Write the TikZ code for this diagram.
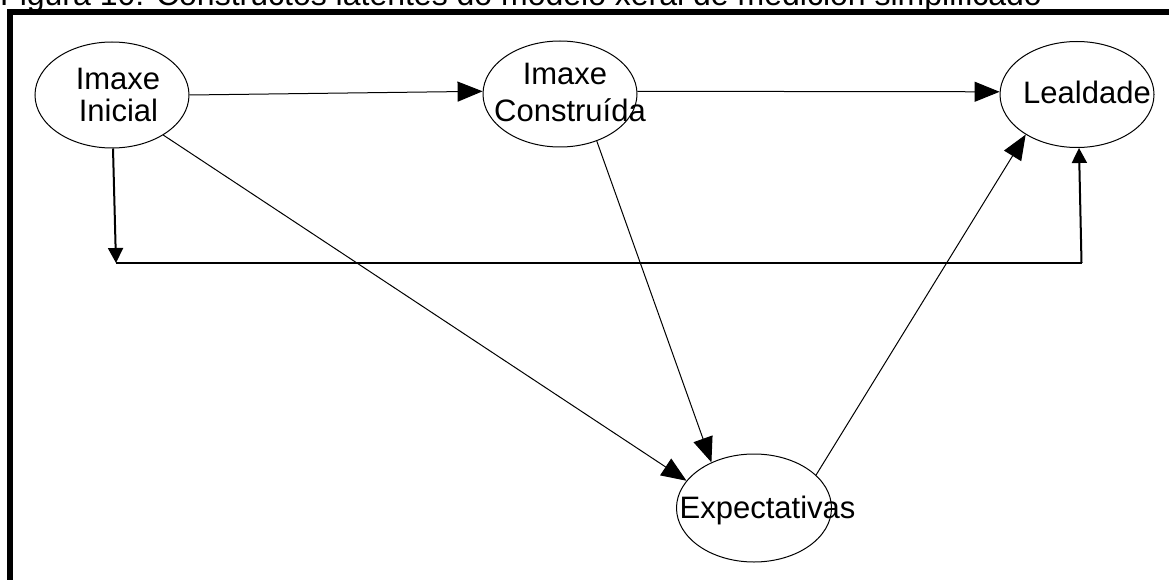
\documentclass[tikz,border=0pt]{standalone}
\usepackage{fontspec}
\setmainfont{Liberation Sans}
\usetikzlibrary{shapes.geometric,arrows.meta}
\begin{document}
\begin{tikzpicture}[x=1pt,y=-1pt,
  construct/.style={draw,ellipse,line width=1pt,inner sep=0pt,
    minimum width=154pt,minimum height=106pt},
  lbl/.style={anchor=base,inner sep=0pt,font=\fontsize{31}{36}\selectfont},
  path/.style={line width=1pt,-{Triangle[length=25pt,width=20pt]}},
  bold/.style={line width=2pt},
  boldarrow/.style={bold,-{Triangle[length=15pt,width=15pt]}}]
\useasboundingbox (0,0) rectangle (1169,580);
\clip (0,0) rectangle (1169,580);

% caption, partly above the page
\node[anchor=base west,inner sep=0pt,font=\fontsize{32}{36}\selectfont] (cap) at (0,6)
  {Figura 10: Constructos latentes do modelo xeral de medición simplificado};

% frame
\draw[line width=6pt] (9.5,620) -- (9.5,12) -- (1200,12);

% constructs
\node[construct] (ini)  at (112,95)  {};
\node[construct] (cons) at (560,94)  {};
\node[construct] (leal) at (1077,94.5) {};
\node[construct,minimum width=155pt,minimum height=108pt] (exp) at (754,508) {};

\node[lbl] (ini1)  at (118,90)    {Imaxe};
\node[lbl] (ini2)  at (118.5,121.7) {Inicial};
\node[lbl] (cons1) at (565,85)    {Imaxe};
\node[lbl] (cons2) at (570,121.7) {Construída};
\node[lbl] (leal1) at (1087,103.3) {Lealdade};
\node[lbl] (exp1)  at (767.5,518) {Expectativas};

% paths
\draw[path] (ini.0) -- (cons.178);
\draw[path] (cons.2) -- (leal.178);
\draw[path] (ini.-38) -- (exp.158.8);
\draw[path] (cons.-52) -- (exp.133);
\draw[path] (exp.28) -- (leal.218.3);

% direct path below
\coordinate (c1) at (116,263);
\coordinate (c2) at (1081.5,263);
\draw[boldarrow] ([xshift=1pt]ini.south) -- (c1);
\draw[bold] (c1) -- (c2);
\draw[boldarrow] (c2) -- ([xshift=2pt]leal.south);
\end{tikzpicture}
\end{document}
